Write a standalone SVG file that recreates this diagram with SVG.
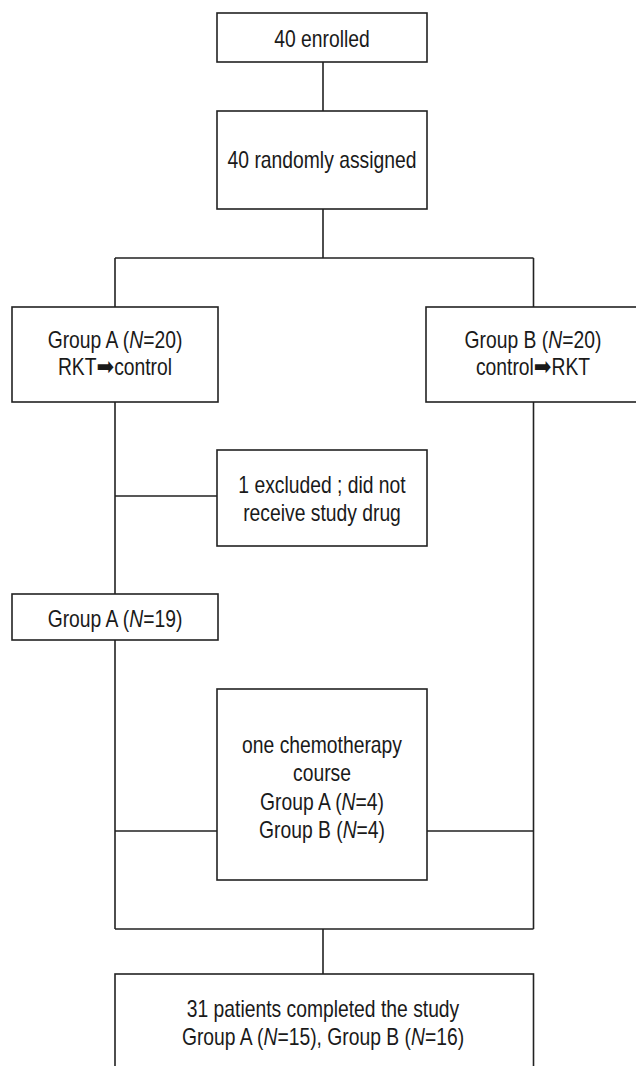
<svg xmlns="http://www.w3.org/2000/svg" width="636" height="1066" viewBox="0 0 636 1066">
<style>
.box{fill:#fff;stroke:#222;stroke-width:1.6}
.ln{fill:none;stroke:#222;stroke-width:1.6}
.t{font-family:"Liberation Sans",Arial,sans-serif;font-size:23px;fill:#1a1a1a;text-anchor:middle}
.i{font-style:italic}
.ar{font-family:"DejaVu Sans",sans-serif;font-size:25px}
</style>
<rect x="0" y="0" width="636" height="1066" fill="#fff"/>
<g id="connectors">
<path class="ln" d="M323 62V111M323 209V258M115 258H533.5M115 258V307M533.5 258V307M115 402V594M115 496H217M533.5 402V929M115 640V929M115 831H217M427 831H533.5M115 929H533.5M323 929V974"/>
</g>
<g id="enrolled">
<rect class="box" x="217" y="13" width="210" height="49"/>
<text class="t" transform="translate(322 46.5) scale(0.84 1)">40 enrolled</text>
</g>
<g id="randomized">
<rect class="box" x="217" y="111" width="210" height="98"/>
<text class="t" transform="translate(322 168.3) scale(0.84 1)">40 randomly assigned</text>
</g>
<g id="groupA">
<rect class="box" x="12" y="307" width="206" height="95"/>
<text class="t" transform="translate(115 348.3) scale(0.84 1)">Group A (<tspan class="i">N</tspan>=20)</text>
<text class="t" transform="translate(115 375) scale(0.84 1)">RKT<tspan class="ar">➡</tspan>control</text>
</g>
<g id="groupB">
<rect class="box" x="426" y="307" width="214" height="95"/>
<text class="t" transform="translate(533 348.3) scale(0.84 1)">Group B (<tspan class="i">N</tspan>=20)</text>
<text class="t" transform="translate(533 375) scale(0.84 1)">control<tspan class="ar">➡</tspan>RKT</text>
</g>
<g id="excluded">
<rect class="box" x="217" y="450" width="210" height="96"/>
<text class="t" transform="translate(322 493) scale(0.84 1)">1 excluded ; did not</text>
<text class="t" transform="translate(322 521) scale(0.84 1)">receive study drug</text>
</g>
<g id="groupA19">
<rect class="box" x="12" y="594" width="206" height="46"/>
<text class="t" transform="translate(115 626.5) scale(0.84 1)">Group A (<tspan class="i">N</tspan>=19)</text>
</g>
<g id="chemo">
<rect class="box" x="217" y="689" width="210" height="191"/>
<text class="t" transform="translate(322 752.5) scale(0.84 1)">one chemotherapy</text>
<text class="t" transform="translate(322 781) scale(0.84 1)">course</text>
<text class="t" transform="translate(322 809.5) scale(0.84 1)">Group A (<tspan class="i">N</tspan>=4)</text>
<text class="t" transform="translate(322 838) scale(0.84 1)">Group B (<tspan class="i">N</tspan>=4)</text>
</g>
<g id="completed">
<rect class="box" x="115" y="974" width="418.5" height="120"/>
<text class="t" transform="translate(323 1017) scale(0.84 1)">31 patients completed the study</text>
<text class="t" transform="translate(323 1045) scale(0.84 1)">Group A (<tspan class="i">N</tspan>=15), Group B (<tspan class="i">N</tspan>=16)</text>
</g>
</svg>
